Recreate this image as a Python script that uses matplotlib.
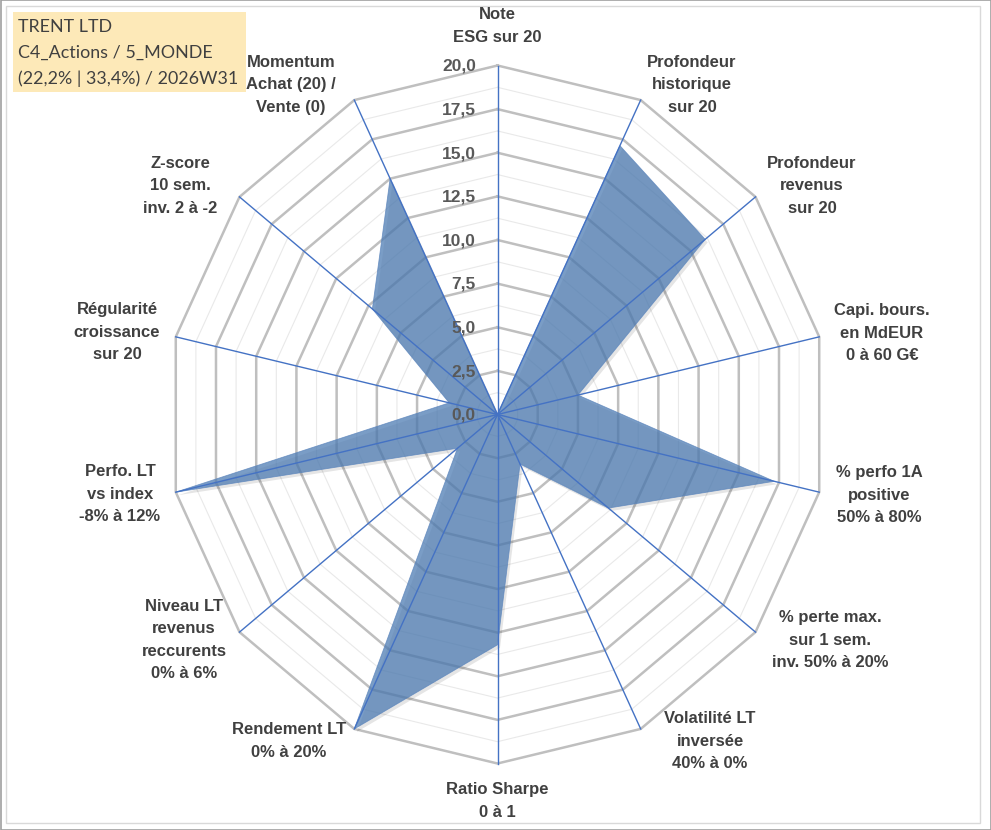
import numpy as np
import matplotlib
matplotlib.use("Agg")
import matplotlib.pyplot as plt
from matplotlib.patches import Polygon, Rectangle

# ---------------- data ----------------
categories = [
    "Note\nESG sur 20",
    "Profondeur\nhistorique\nsur 20",
    "Profondeur\nrevenus\nsur 20",
    "Capi. bours.\nen MdEUR\n0 à 60 G€",
    "% perfo 1A\npositive\n50% à 80%",
    "% perte max.\nsur 1 sem.\ninv. 50% à 20%",
    "Volatilité LT\ninversée\n40% à 0%",
    "Ratio Sharpe\n0 à 1",
    "Rendement LT\n0% à 20%",
    "Niveau LT\nrevenus\nreccurents\n0% à 6%",
    "Perfo. LT\nvs index\n-8% à 12%",
    "Régularité\ncroissance\nsur 20",
    "Z-score\n10 sem.\ninv. 2 à -2",
    "Momentum\nAchat (20) /\nVente (0)",
]
values = [0.0, 17.1, 16.1, 5.0, 17.2, 8.6, 3.15, 13.2, 20.0, 3.1, 20.0, 3.0, 9.7, 15.0]
tick_values = [0.0, 2.5, 5.0, 7.5, 10.0, 12.5, 15.0, 17.5, 20.0]
tick_labels = ["0,0", "2,5", "5,0", "7,5", "10,0", "12,5", "15,0", "17,5", "20,0"]
title_lines = ["TRENT LTD", "C4_Actions / 5_MONDE", "(22,2% | 33,4%) / 2026W31"]

# ---------------- layout ----------------
W, H = 991, 830
CX, CY = 497.5, 414.5     # centre in pixels
RH, RV = 330.0, 349.0     # pixel radius of max value (horizontal / vertical)
RMAX = 20.0
label_px = [(497, 26), (692, 85), (812, 186), (882, 333), (879, 495), (830, 640),
            (710, 741), (497, 801), (289, 741), (184, 640), (120, 494), (117, 332),
            (180, 186), (291, 85)]
title_y = [27, 53, 79]

fig = plt.figure(figsize=(W / 100, H / 100), dpi=100)
ax = fig.add_axes([0, 0, 1, 1])
ax.set_xlim(-CX / RH * RMAX, (W - CX) / RH * RMAX)
ax.set_ylim(-(H - CY) / RV * RMAX, CY / RV * RMAX)
ax.axis("off")

N = len(categories)
theta = np.arange(N) * 2 * np.pi / N


def ring(r):
    rr = np.asarray(r, dtype=float) * np.ones(N)
    x = rr * np.sin(theta)
    y = rr * np.cos(theta)
    return np.append(x, x[0]), np.append(y, y[0])


# grid rings
minor = np.arange(1.25, RMAX + 0.01, 2.5)
for r in minor:
    x, y = ring(r)
    ax.plot(x, y, color="#E9E9E9", lw=0.8, zorder=1)
for r in tick_values[1:]:
    x, y = ring(r)
    ax.plot(x, y, color="#BFBFBF", lw=1.8, zorder=1, solid_joinstyle="miter")

# data polygon
vx = np.array(values) * np.sin(theta)
vy = np.array(values) * np.cos(theta)
dx_sh = 2.5 / RH * RMAX
dy_sh = -3.0 / RV * RMAX
ax.add_patch(Polygon(np.column_stack([vx + dx_sh, vy + dy_sh]), closed=True,
                     fc="#000000", alpha=0.10, ec="none", zorder=2))
ax.add_patch(Polygon(np.column_stack([vx, vy]), closed=True,
                     fc="#4E7CB3", alpha=0.75, ec="#5A84BC", lw=0.6, zorder=3))

# spokes
for t in theta:
    ax.plot([0, RMAX * np.sin(t)], [0, RMAX * np.cos(t)], color="#4472C4", lw=1.0, zorder=4)

# tick labels
tx = (476 - CX) / RH * RMAX
for v, lab in zip(tick_values, tick_labels):
    ax.text(tx, v - 0.05, lab, ha="right", va="center", fontsize=12.5, fontweight="bold",
            color="#595959", family="Liberation Sans", zorder=5)

# category labels
for lab, (px, py) in zip(categories, label_px):
    fig.text(px / W, 1 - py / H, lab, ha="center", va="center", multialignment="center",
             fontsize=12, fontweight="bold", color="#404040", family="Liberation Sans",
             linespacing=1.62)

# title box
fig.patches.append(Rectangle((13 / W, 1 - 92 / H), 233 / W, 80 / H, transform=fig.transFigure,
                             fc="#FDE9B8", ec="none", zorder=0))
for line, y in zip(title_lines, title_y):
    fig.text(18 / W, 1 - y / H, line, ha="left", va="center", fontsize=12.9,
             color="#404040", family="Lato")

# frames
fig.patches.append(Rectangle((6 / W, 1 - 823 / H), 974 / W, 817 / H, transform=fig.transFigure,
                             fill=False, ec="#D9D9D9", lw=1.0))
fig.patches.append(Rectangle((0.5 / W, 0.5 / H), 1 - 1 / W, 1 - 1 / H, transform=fig.transFigure,
                             fill=False, ec="#A0A0A0", lw=1.2))

fig.savefig("out.png", dpi=100)
